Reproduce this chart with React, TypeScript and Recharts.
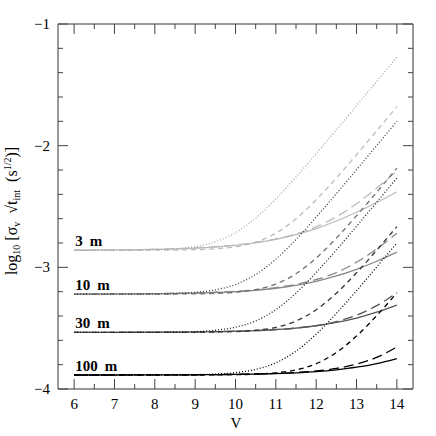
import React from "react";
import { LineChart, Line, XAxis, YAxis, ReferenceDot } from "recharts";

// V magnitude grid
const vMag = [6, 7, 8, 8.5, 9, 9.5, 10, 10.5, 11, 11.5, 12, 12.5, 13, 13.5, 14];

// 3 m
const dot3 = [-2.86, -2.859, -2.855, -2.847, -2.83, -2.79, -2.715, -2.596, -2.438, -2.258, -2.066, -1.87, -1.671, -1.472, -1.274];
const short3 = [-2.86, -2.86, -2.859, -2.858, -2.855, -2.848, -2.831, -2.793, -2.719, -2.601, -2.445, -2.266, -2.074, -1.878, -1.68];
const long3 = [-2.86, -2.858, -2.852, -2.848, -2.84, -2.83, -2.816, -2.795, -2.767, -2.726, -2.667, -2.585, -2.477, -2.349, -2.21];
const solid3 = [-2.859, -2.857, -2.853, -2.849, -2.843, -2.834, -2.82, -2.799, -2.77, -2.731, -2.681, -2.619, -2.547, -2.467, -2.38];

// 10 m
const dot10 = [-3.22, -3.22, -3.218, -3.214, -3.205, -3.185, -3.141, -3.059, -2.933, -2.771, -2.588, -2.395, -2.198, -1.999, -1.8];
const short10 = [-3.22, -3.22, -3.22, -3.219, -3.218, -3.214, -3.205, -3.183, -3.138, -3.053, -2.924, -2.76, -2.576, -2.383, -2.185];
const long10 = [-3.22, -3.219, -3.216, -3.214, -3.21, -3.205, -3.198, -3.185, -3.167, -3.14, -3.1, -3.043, -2.958, -2.849, -2.72];
const solid10 = [-3.22, -3.219, -3.217, -3.215, -3.212, -3.207, -3.2, -3.189, -3.172, -3.148, -3.115, -3.071, -3.016, -2.95, -2.875];

// 30 m
const dot30 = [-3.535, -3.535, -3.534, -3.532, -3.528, -3.517, -3.492, -3.441, -3.348, -3.212, -3.043, -2.857, -2.663, -2.465, -2.266];
const short30 = [-3.535, -3.535, -3.535, -3.534, -3.534, -3.532, -3.528, -3.517, -3.493, -3.441, -3.349, -3.213, -3.045, -2.859, -2.665];
const long30 = [-3.535, -3.535, -3.534, -3.533, -3.532, -3.529, -3.525, -3.52, -3.512, -3.499, -3.479, -3.446, -3.394, -3.315, -3.21];
const solid30 = [-3.535, -3.534, -3.533, -3.533, -3.531, -3.529, -3.525, -3.52, -3.511, -3.499, -3.48, -3.453, -3.417, -3.369, -3.31];

// 100 m
const dot100 = [-3.885, -3.885, -3.885, -3.884, -3.882, -3.877, -3.866, -3.839, -3.785, -3.689, -3.549, -3.379, -3.192, -2.997, -2.8];
const short100 = [-3.885, -3.885, -3.885, -3.885, -3.885, -3.884, -3.882, -3.878, -3.867, -3.843, -3.792, -3.7, -3.565, -3.397, -3.21];
const long100 = [-3.885, -3.885, -3.884, -3.884, -3.883, -3.882, -3.879, -3.876, -3.872, -3.864, -3.852, -3.831, -3.796, -3.74, -3.655];
const solid100 = [-3.885, -3.885, -3.884, -3.884, -3.883, -3.882, -3.88, -3.878, -3.874, -3.867, -3.857, -3.842, -3.821, -3.791, -3.75];

const apertureLabels = ["3 m", "10 m", "30 m", "100 m"];
const apertureFloors = [-2.86, -3.22, -3.535, -3.885];

const xTicks = [6, 6.5, 7, 7.5, 8, 8.5, 9, 9.5, 10, 10.5, 11, 11.5, 12, 12.5, 13, 13.5, 14];
const yTicks = [-4, -3.8, -3.6, -3.4, -3.2, -3, -2.8, -2.6, -2.4, -2.2, -2, -1.8, -1.6, -1.4, -1.2, -1];

const FONT = "'Liberation Serif', 'Times New Roman', serif";
const LONG = "10 5";
const SHORT = "5 4";
const DOTS = "1 2";

const curves = [
  { key: "solid3", values: solid3, color: "#bbbbbb" },
  { key: "long3", values: long3, color: "#bbbbbb", dash: LONG },
  { key: "short3", values: short3, color: "#bbbbbb", dash: SHORT },
  { key: "dot3", values: dot3, color: "#a8a8a8", dash: DOTS },
  { key: "solid10", values: solid10, color: "#888888" },
  { key: "long10", values: long10, color: "#888888", dash: LONG },
  { key: "short10", values: short10, color: "#707070", dash: SHORT },
  { key: "dot10", values: dot10, color: "#404040", dash: DOTS },
  { key: "solid30", values: solid30, color: "#555555" },
  { key: "long30", values: long30, color: "#555555", dash: LONG },
  { key: "short30", values: short30, color: "#333333", dash: SHORT },
  { key: "dot30", values: dot30, color: "#222222", dash: DOTS },
  { key: "solid100", values: solid100, color: "#000000" },
  { key: "long100", values: long100, color: "#000000", dash: LONG },
  { key: "short100", values: short100, color: "#000000", dash: SHORT },
  { key: "dot100", values: dot100, color: "#000000", dash: DOTS },
];

const data = vMag.map((v, i) => {
  const row: Record<string, number> = { v };
  curves.forEach((c) => {
    row[c.key] = c.values[i];
  });
  return row;
});

const isMajor = (v: number) => Math.abs(v - Math.round(v)) < 1e-6;
const fmt = (v: number) => (v < 0 ? `\u2212${Math.abs(v)}` : `${v}`);
const TICK = "#444";

function BottomTick(props: any) {
  const { x, y, payload } = props;
  const major = isMajor(payload.value);
  return (
    <g>
      <line x1={x} x2={x} y1={y} y2={y - (major ? 10 : 5)} stroke={TICK} />
      {major && (
        <text x={x} y={y + 20} textAnchor="middle" fontFamily={FONT} fontSize={15} fill="#000">
          {fmt(payload.value)}
        </text>
      )}
    </g>
  );
}

function TopTick(props: any) {
  const { x, y, payload } = props;
  const major = isMajor(payload.value);
  return <line x1={x} x2={x} y1={y} y2={y + (major ? 10 : 5)} stroke={TICK} />;
}

function LeftTick(props: any) {
  const { x, y, payload } = props;
  const major = isMajor(payload.value);
  return (
    <g>
      <line x1={x} x2={x + (major ? 10 : 5)} y1={y} y2={y} stroke={TICK} />
      {major && (
        <text x={x - 8} y={y + 5} textAnchor="end" fontFamily={FONT} fontSize={15} fill="#000">
          {fmt(payload.value)}
        </text>
      )}
    </g>
  );
}

function RightTick(props: any) {
  const { x, y, payload } = props;
  const major = isMajor(payload.value);
  return <line x1={x} x2={x - (major ? 10 : 5)} y1={y} y2={y} stroke={TICK} />;
}

const frame = { stroke: "#777", strokeWidth: 1.5 };

export default function App() {
  return (
    <div style={{ position: "absolute", left: 0, top: 0, width: 436, height: 436, background: "#fff" }}>
      <LineChart width={436} height={436} data={data} margin={{ top: 0, right: 0, bottom: 0, left: 0 }}>
        <XAxis
          dataKey="v"
          type="number"
          domain={[5.6, 14.4]}
          allowDataOverflow
          ticks={xTicks}
          interval={0}
          tickSize={0}
          tickMargin={0}
          tickLine={false}
          axisLine={frame}
          tick={<BottomTick />}
          height={47}
        />
        <XAxis
          xAxisId="top"
          orientation="top"
          dataKey="v"
          type="number"
          domain={[5.6, 14.4]}
          allowDataOverflow
          ticks={xTicks}
          interval={0}
          tickSize={0}
          tickMargin={0}
          tickLine={false}
          axisLine={frame}
          tick={<TopTick />}
          height={24}
        />
        <YAxis
          type="number"
          domain={[-4, -1]}
          allowDataOverflow
          ticks={yTicks}
          interval={0}
          tickSize={0}
          tickMargin={0}
          tickLine={false}
          axisLine={frame}
          tick={<LeftTick />}
          width={58}
        />
        <YAxis
          yAxisId="right"
          orientation="right"
          type="number"
          domain={[-4, -1]}
          allowDataOverflow
          ticks={yTicks}
          interval={0}
          tickSize={0}
          tickMargin={0}
          tickLine={false}
          axisLine={frame}
          tick={<RightTick />}
          width={23}
        />
        {curves.map((c) => (
          <Line
            key={c.key}
            dataKey={c.key}
            type="monotone"
            stroke={c.color}
            strokeWidth={1.3}
            strokeDasharray={c.dash}
            dot={false}
            activeDot={false}
            isAnimationActive={false}
          />
        ))}
        {apertureLabels.map((label, i) => (
          <ReferenceDot
            key={label}
            x={6}
            y={apertureFloors[i]}
            r={0}
            shape={(p: any) => {
              const [num, unit] = label.split(" ");
              return (
                <text x={p.cx + 1} y={p.cy - 4} fontFamily={FONT} fontSize={15} fontWeight="bold" fill="#000">
                  <tspan>{num}</tspan>
                  <tspan dx={7}>{unit}</tspan>
                </text>
              );
            }}
          />
        ))}
      </LineChart>
      <svg width={436} height={436} style={{ position: "absolute", left: 0, top: 0, pointerEvents: "none" }}>
        <text
          x={17}
          y={211}
          transform="rotate(-90 17 211)"
          textAnchor="middle"
          fontFamily={FONT}
          fontSize={16}
          fill="#000"
          style={{ whiteSpace: "pre" }}
        >
          <tspan>log</tspan>
          <tspan fontSize={10} dy={3}>10</tspan>
          <tspan dy={-3}>{" [\u03c3"}</tspan>
          <tspan fontSize={10} dy={3}>v</tspan>
          <tspan dy={-3}>{"  \u221at"}</tspan>
          <tspan fontSize={10} dy={3}>int</tspan>
          <tspan dy={-3}>{"  (s"}</tspan>
          <tspan fontSize={10} dy={-6}>1/2</tspan>
          <tspan dy={6}>{")]"}</tspan>
        </text>
        <text x={236} y={428} textAnchor="middle" fontFamily={FONT} fontSize={15} fill="#000">
          V
        </text>
      </svg>
    </div>
  );
}
